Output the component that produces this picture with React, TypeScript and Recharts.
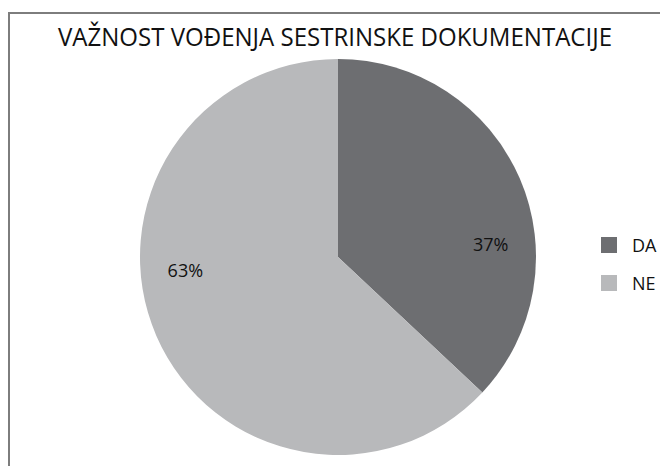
import { FC } from "react";
import { Cell, Legend, Pie, PieChart } from "recharts";

const CATEGORIES = ['DA', 'NE']
const VALUES = [37, 63]
const COLORS = ['#6d6e71', '#b8b9bb']
const TITLE = 'VAŽNOST VOĐENJA SESTRINSKE DOKUMENTACIJE'

const FONT = "'Open Sans', 'DejaVu Sans', sans-serif"
const RAD = Math.PI / 180

interface IData {
    name: string
    value: number
}

const data = CATEGORIES.map((name, i): IData => ({ name, value: VALUES[i] }))

// Excel puts the labels close to the horizontal middle, so y is squashed
const renderLabel = (props: any) => {
    const { cx, cy, midAngle, outerRadius, value } = props
    const x = cx + outerRadius * 0.84 * Math.cos(-midAngle * RAD)
    const y = cy + outerRadius * 0.17 * Math.sin(-midAngle * RAD)
    return (
        <text x={x} y={y} textAnchor="middle" dominantBaseline="central"
            fontFamily={FONT} fontSize={18} fill="#111">
            {`${value}%`}
        </text>
    )
}

const renderLegend = (props: any) => {
    const { payload } = props
    return (
        <div style={{ fontFamily: FONT, fontSize: 18, color: '#111' }}>
            {payload.map((entry: any, i: number) => (
                <div key={`leg-${i}`} style={{ display: 'flex', alignItems: 'center', height: 38 }}>
                    <span style={{ width: 16, height: 16, background: entry.color, marginRight: 15 }} />
                    <span>{entry.value}</span>
                </div>
            ))}
        </div>
    )
}

const App: FC = () => {
    return (
        <div style={{ position: 'absolute', left: 0, top: 0, width: 660, height: 466, overflow: 'hidden', background: '#fff' }}>
            {/* frame */}
            <div style={{
                position: 'absolute', left: 8, top: 12, width: 700, height: 500,
                borderLeft: '2px solid #7d7d7d', borderTop: '2px solid #7d7d7d'
            }} />
            <svg width={660} height={60} style={{ position: 'absolute', left: 0, top: 0 }}>
                <text x={335} y={46} textAnchor="middle" fontFamily={FONT} fontSize={26}
                    fill="#111" textLength={554} lengthAdjust="spacingAndGlyphs">
                    {TITLE}
                </text>
            </svg>
            <div style={{ position: 'absolute', left: 0, top: 0 }}>
                <PieChart width={660} height={466} margin={{ top: 0, right: 0, bottom: 0, left: 0 }}>
                    <Pie
                        data={data}
                        cx={338}
                        cy={257}
                        outerRadius={198}
                        startAngle={90}
                        endAngle={-270}
                        dataKey="value"
                        nameKey="name"
                        stroke="none"
                        label={renderLabel}
                        labelLine={false}
                        isAnimationActive={false}
                    >
                        {data.map((_, index) => (
                            <Cell key={`cell-${index}`} fill={COLORS[index % COLORS.length]} />
                        ))}
                    </Pie>
                    <Legend
                        layout="vertical"
                        content={renderLegend}
                        wrapperStyle={{ left: 601, top: 226, width: 60 }}
                    />
                </PieChart>
            </div>
        </div>
    )
}

export default App
